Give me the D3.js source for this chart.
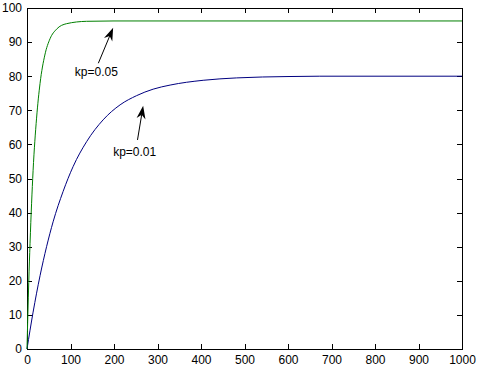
<!DOCTYPE html>
<html lang="en">
    <head>
        <meta charset="utf-8">
        <title>kp step response</title>
        <script type="text/javascript" src="https://d3js.org/d3.v7.min.js"></script>
        <style>
            body {
                margin: 0;
                background: #fff;
            }
            svg text {
                font-family: "Liberation Sans", Arial, sans-serif;
                font-size: 12px;
                fill: #000;
            }
        </style>
    </head>
    <body>
        <script>
            //Width and height
            const w = 480;
            const h = 372;
            const margin = {top: 8, right: 18, bottom: 23, left: 27};

            //Data
            const xTicks = [0, 100, 200, 300, 400, 500, 600, 700, 800, 900, 1000];
            const yTicks = [0, 10, 20, 30, 40, 50, 60, 70, 80, 90, 100];

            //kp=0.05 (green)
            const fastT = [0, 2, 4, 7, 14, 22, 30, 41, 53, 68, 91, 137, 200, 1000];
            const fastV = [0, 10.2, 19.5, 31, 52.3, 67.7, 77.9, 86.2, 91, 93.8, 95.4, 96.1, 96.2, 96.2];

            //kp=0.01 (blue)
            const slowT = [0, 14, 30, 45, 60, 83, 106, 137, 175, 214, 252, 290, 329, 405, 482, 600, 673, 1000];
            const slowV = [0, 10.8, 21.5, 30, 37.3, 46.2, 53.5, 60.8, 67.2, 71.6, 74.3, 76.2, 77.4, 78.8, 79.5, 79.9, 80, 80];

            //annotations: text position and arrow tail/tip, in data units
            const noteLabels = ["kp=0.05", "kp=0.01"];
            const noteText = [[110, 80], [198, 56.5]];
            const noteTail = [[164, 83.8], [254, 61.3]];
            const noteTip = [[198, 94.2], [267, 71.3]];

            let xScale = d3.scaleLinear()
                            .domain([0, 1000])
                            .range([margin.left, w - margin.right]);

            let yScale = d3.scaleLinear()
                            .domain([0, 100])
                            .range([h - margin.bottom, margin.top]);

            const svg = d3.select("body")
                        .append("svg")
                        .attr("width", w)
                        .attr("height", h);

            //plot box
            svg.append("rect")
                .attr("x", xScale(0))
                .attr("y", yScale(100))
                .attr("width", xScale(1000) - xScale(0))
                .attr("height", yScale(0) - yScale(100))
                .attr("fill", "#fff")
                .attr("stroke", "#000")
                .attr("shape-rendering", "crispEdges");

            //axes, ticks inward on all four sides
            const tl = 5;
            const fmt = d3.format("d");
            svg.append("g")
                .attr("transform", "translate(0," + yScale(0) + ")")
                .call(d3.axisBottom(xScale).tickValues(xTicks).tickFormat(fmt).tickSizeInner(-tl).tickSizeOuter(0).tickPadding(6))
                .call(g => g.select(".domain").remove());
            svg.append("g")
                .attr("transform", "translate(0," + yScale(100) + ")")
                .call(d3.axisTop(xScale).tickValues(xTicks).tickSizeInner(-tl).tickSizeOuter(0).tickFormat(""))
                .call(g => g.select(".domain").remove());
            svg.append("g")
                .attr("transform", "translate(" + xScale(0) + ",0)")
                .call(d3.axisLeft(yScale).tickValues(yTicks).tickFormat(fmt).tickSizeInner(-tl).tickSizeOuter(0).tickPadding(5))
                .call(g => g.select(".domain").remove());
            svg.append("g")
                .attr("transform", "translate(" + xScale(1000) + ",0)")
                .call(d3.axisRight(yScale).tickValues(yTicks).tickSizeInner(-tl).tickSizeOuter(0).tickFormat(""))
                .call(g => g.select(".domain").remove());

            svg.selectAll(".tick line")
                .attr("stroke", "#000")
                .attr("shape-rendering", "crispEdges");
            svg.selectAll(".tick text")
                .attr("font-size", "12px")
                .attr("font-family", "Liberation Sans, Arial, sans-serif");

            //curves
            const line = d3.line()
                .x(d => xScale(d[0]))
                .y(d => yScale(d[1]))
                .curve(d3.curveMonotoneX);

            svg.append("path")
                .datum(slowT.map((t, i) => [t, slowV[i]]))
                .attr("d", line)
                .attr("fill", "none")
                .attr("stroke", "#000080")
                .attr("stroke-width", 1);

            svg.append("path")
                .datum(fastT.map((t, i) => [t, fastV[i]]))
                .attr("d", line)
                .attr("fill", "none")
                .attr("stroke", "#007f00")
                .attr("stroke-width", 1);

            //annotations
            noteLabels.forEach(function(label, i) {
                let x1 = xScale(noteTail[i][0]), y1 = yScale(noteTail[i][1]);
                let x2 = xScale(noteTip[i][0]), y2 = yScale(noteTip[i][1]);
                let ang = Math.atan2(y2 - y1, x2 - x1);
                let len = 13, half = 4.5, notch = 9;
                let bx = x2 - len * Math.cos(ang), by = y2 - len * Math.sin(ang);
                let nx = x2 - notch * Math.cos(ang), ny = y2 - notch * Math.sin(ang);
                let px = -Math.sin(ang), py = Math.cos(ang);

                svg.append("line")
                    .attr("x1", x1).attr("y1", y1)
                    .attr("x2", nx).attr("y2", ny)
                    .attr("stroke", "#000")
                    .attr("stroke-width", 1);

                svg.append("path")
                    .attr("d", "M" + x2 + "," + y2 +
                               "L" + (bx + px * half) + "," + (by + py * half) +
                               "L" + nx + "," + ny +
                               "L" + (bx - px * half) + "," + (by - py * half) + "Z")
                    .attr("fill", "#000");

                svg.append("text")
                    .attr("x", xScale(noteText[i][0]))
                    .attr("y", yScale(noteText[i][1]))
                    .text(label);
            });
        </script>
    </body>
</html>
